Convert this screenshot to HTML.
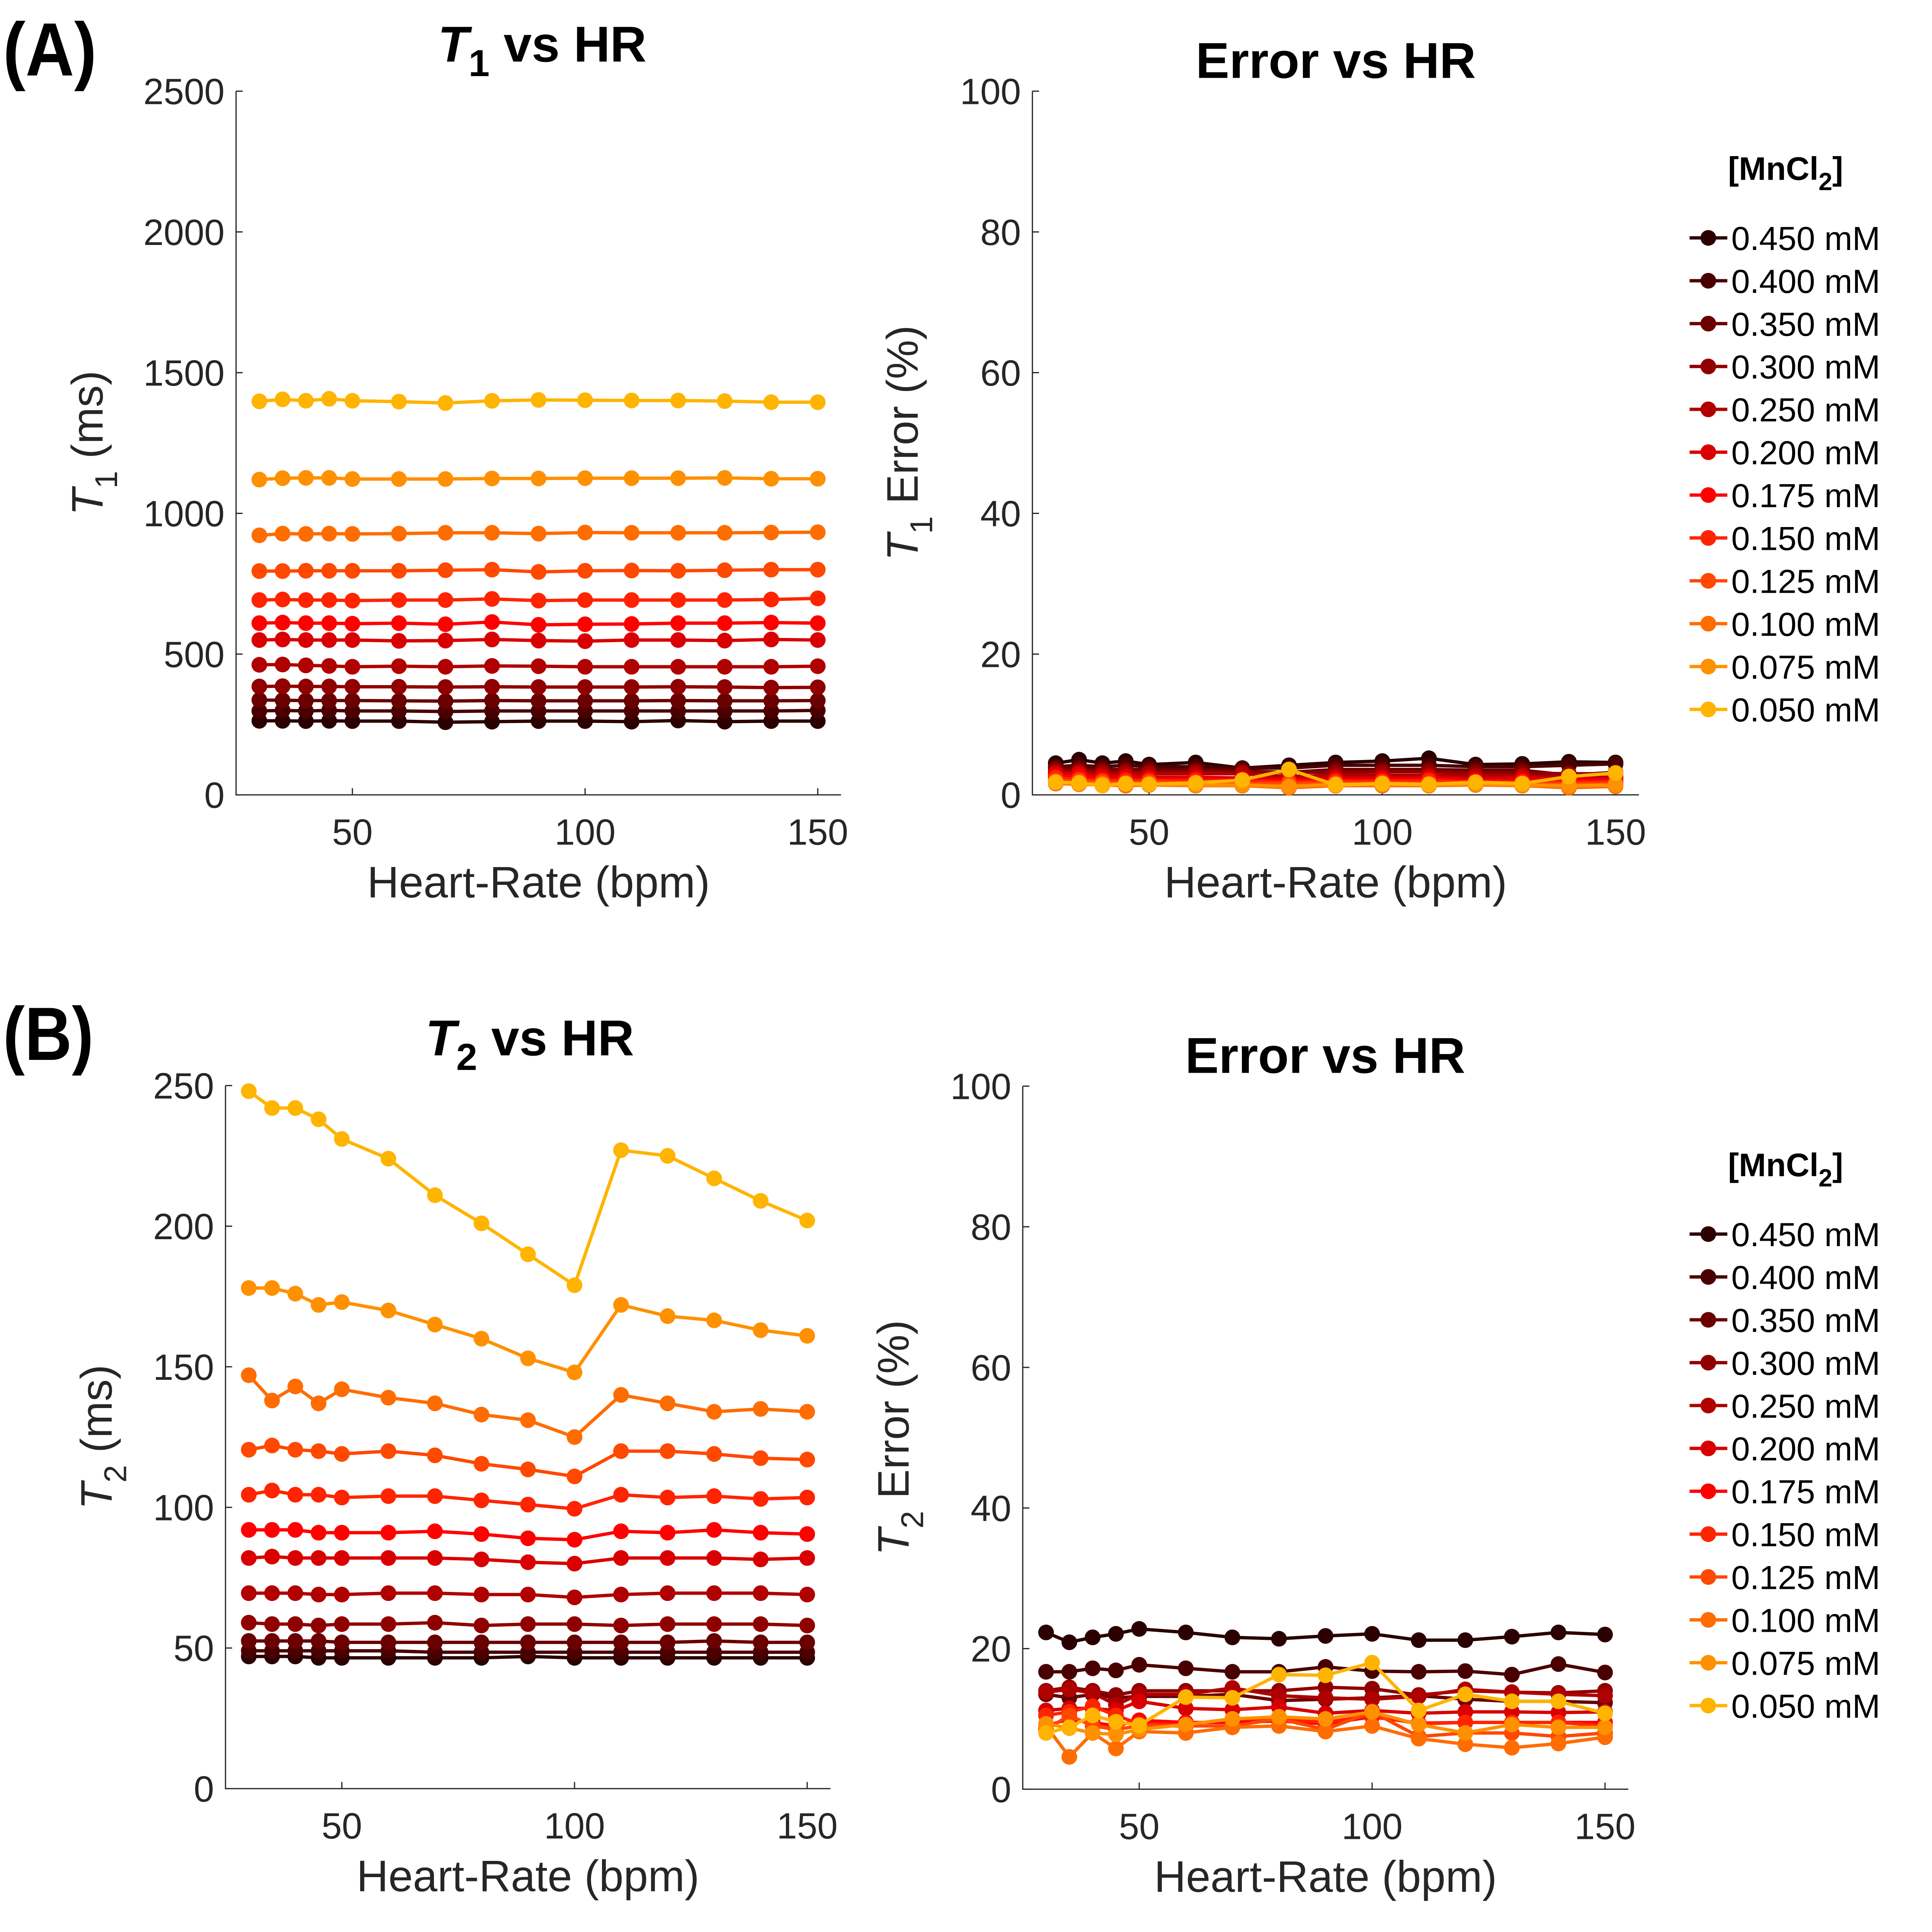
<!DOCTYPE html>
<html><head><meta charset="utf-8"><style>
html,body{margin:0;padding:0;background:#fff;width:100%;height:100%;overflow:hidden;}
svg{display:block;width:100vw;height:100vh;font-family:"Liberation Sans",Arial,sans-serif;}
</style></head><body>
<svg id="fig" viewBox="0 0 6400 6400" preserveAspectRatio="none" xmlns="http://www.w3.org/2000/svg">
<rect width="6400" height="6400" fill="#fff"/>
<text x="10" y="250" font-size="250" font-weight="bold" fill="#000" textLength="310" lengthAdjust="spacingAndGlyphs">(A)</text>
<text x="10" y="3511" font-size="250" font-weight="bold" fill="#000" textLength="300" lengthAdjust="spacingAndGlyphs">(B)</text>
<g id="plots"></g>
</svg>
<script>
const hr = [30,35,40,45,50,60,70,80,90,100,110,120,130,140,150];
const conc = ["0.450 mM","0.400 mM","0.350 mM","0.300 mM","0.250 mM","0.200 mM","0.175 mM","0.150 mM","0.125 mM","0.100 mM","0.075 mM","0.050 mM"];
const colors = ["#2a0000","#4a0000","#6a0000","#900000","#b00000","#d80000","#ff0000","#ff2400","#ff4800","#ff6c00","#ff9000","#ffb400"];
const xTicks = [50,100,150];
const t1Ticks = [0,500,1000,1500,2000,2500];
const errTicks = [0,20,40,60,80,100];
const t2Ticks = [0,50,100,150,200,250];

const t1Data = [
[263,263,262,263,262,262,258,260,262,262,260,264,260,262,262],
[298,300,298,300,298,298,296,298,298,298,298,298,298,298,300],
[337,336,335,335,335,334,333,335,334,334,334,335,334,334,335],
[385,386,385,385,384,384,383,384,383,383,383,384,383,381,382],
[462,463,460,458,455,457,455,458,457,455,455,455,455,455,457],
[550,552,550,550,550,547,548,552,548,546,550,550,548,552,550],
[610,612,610,610,608,610,606,614,604,606,607,610,610,612,610],
[692,694,692,692,690,692,692,696,690,692,692,692,692,694,698],
[795,795,796,796,796,796,798,800,792,796,797,796,798,800,800],
[922,928,927,928,927,928,931,931,928,932,931,931,931,932,933],
[1120,1125,1126,1126,1122,1122,1122,1124,1124,1125,1125,1125,1126,1123,1123],
[1398,1405,1400,1407,1400,1397,1392,1400,1403,1402,1401,1401,1399,1395,1395]
];
const t1Err = [
[4.5,5,4.5,4.8,4.3,4.6,3.8,4.2,4.6,4.8,5.2,4.3,4.4,4.7,4.6],
[4,4.2,4,4.2,4,4,3.8,3.8,4.2,4.2,4.2,4,4,4.2,4.4],
[3.8,3.8,3.6,3.6,3.6,3.6,3.4,3.2,3.6,3.6,3.6,3.5,3.5,2.8,3.2],
[3.5,3.5,3.3,3.3,3.2,3.3,3.2,3.2,3.2,3.3,3.3,3.1,3.1,3.0,3.0],
[3.2,3.2,3,3,3,3,3,2.6,2.8,2.8,2.8,2.7,2.7,2.5,2.5],
[3,3,2.6,2.6,2.5,2.5,2.4,2.3,2.4,2.4,2.5,2.3,2.4,2.2,2.3],
[2.6,2.6,2.2,2.2,2.2,2.2,2.1,2,2,2.1,2.2,2,2,2,2],
[2.4,2.2,2,2,2,2,1.9,1.8,1.9,1.9,2,1.8,1.8,1.8,1.8],
[2,2,1.8,1.7,1.8,1.7,1.6,1.6,1.6,1.7,1.6,1.6,1.6,1.5,1.6],
[1.6,1.5,1.4,1.3,1.4,1.3,1.3,1.0,1.3,1.3,1.3,1.4,1.3,1.0,1.2],
[1.8,1.6,1.5,1.5,1.5,1.4,1.4,1.2,1.5,1.5,1.4,1.5,1.4,1.3,1.4],
[1.8,1.7,1.3,1.6,1.5,1.7,2.1,3.6,1.4,1.6,1.5,1.8,1.6,2.6,3.1]
];
const t2Data = [
[47,47,47,46.5,46.5,46.5,46.5,46.5,47,46.5,46.5,46.5,46.5,46.5,46.5],
[49,49,49,49,49,49,48.5,48.5,48.5,48.5,48.5,48.5,48.5,48.5,48.5],
[52.5,52.5,52.5,52.5,52,52,52,52,52,52,52,52,52.5,52,52],
[59,58.5,58.5,58,58.5,58.5,59,58,58.5,58.5,58,58.5,58.5,58.5,58],
[69.5,69.5,69.5,69,69,69.5,69.5,69,69,68,69,69.5,69.5,69.5,69],
[82,82.5,82,82,82,82,82,81.5,80.5,80,82,82,82,81.5,82],
[92,92,92,91,91,91,91.5,90.5,89,88.5,91.5,91,92,91,90.5],
[104.5,106,104.5,104.5,103.5,104,104,102.5,101,99.5,104.5,103.5,104,103,103.5],
[120.5,122,120.5,120,119,120,118.5,115.5,113.5,111,120,120,119,117.5,117],
[147,138,143,137,142,139,137,133,131,125,140,137,134,135,134],
[178,178,176,172,173,170,165,160,153,148,172,168,166.5,163,161],
[248,242,242,238,231,224,211,201,190,179,227,225,217,209,202]
];
const t2Err = [
[22.3,20.9,21.6,22.1,22.8,22.3,21.6,21.4,21.8,22.1,21.2,21.2,21.7,22.3,22.0],
[16.7,16.7,17.2,16.9,17.7,17.2,16.7,16.7,17.4,16.8,16.7,16.8,16.3,17.8,16.6],
[13.5,13.0,13.5,13.0,13.2,13.2,13.5,12.6,12.8,13.0,13.3,12.8,12.5,12.5,12.3],
[14,14.5,14,13.4,14,14,14,14,14.5,14.3,13.4,14,13.8,13.7,14],
[13.8,14.2,13.7,12,13.5,13.5,14.4,13.3,13,12.8,13.2,14.2,13.8,13.5,13.3],
[11.2,11.5,11.5,11.2,12.5,11.5,11.3,11.7,10.8,11.2,10.8,11,11,10.9,11],
[9,10,9.5,9,9.8,9.5,9.5,9.7,9.3,10.3,9.4,9.5,9.5,9.5,9.5],
[10.5,11,11.8,10.5,9.3,9.2,10,10,9.5,10.5,9.3,9.5,9.5,9.5,9.0],
[8.5,10.5,9,8.5,9,9,9,10,8.5,11,7.5,8,8,7.5,8],
[9,4.6,8,5.8,8.2,8,8.8,9,8.2,9,7.2,6.4,5.9,6.5,7.4],
[9.3,8.7,8.0,7.8,8.5,9.2,10,10.3,10,11,9.2,8,9.2,8.8,8.8],
[8,8.8,10.5,9.6,9.1,13.1,13,16.3,16.2,18,11.2,13.5,12.5,12.5,10.8]
];

const NS = "http://www.w3.org/2000/svg";
const root = document.getElementById("plots");
function mk(tag, attrs, parent){
  const e = document.createElementNS(NS, tag);
  for (const k in attrs) e.setAttribute(k, attrs[k]);
  (parent||root).appendChild(e);
  return e;
}

function panel(cfg){
  const g = mk("g", {});
  
  
  const L=cfg.l, T=cfg.t, R=cfg.r, B=cfg.b;
  const xs = v => L + (v-25)/(155-25)*(R-L);
  const ys = v => B - (v-cfg.ymin)/(cfg.ymax-cfg.ymin)*(B-T);
  const ax = mk("path", {d:`M${L} ${T} L${L} ${B} L${R} ${B}`, stroke:"#262626", "stroke-width":4, fill:"none"}, g);
  
  
  cfg.yTicks.forEach(v=>{
    const y = ys(v);
    mk("line",{x1:L,x2:L+22,y1:y,y2:y,stroke:"#262626","stroke-width":4},g);
    const t = mk("text",{x:L-38,y:y+43,"text-anchor":"end","font-size":121,fill:"#262626"},g);
    
    
    t.textContent = v;
  });
  xTicks.forEach(v=>{
    const x = xs(v);
    mk("line",{x1:x,x2:x,y1:B,y2:B-22,stroke:"#262626","stroke-width":4},g);
    const t = mk("text",{x:x,y:B+165,"text-anchor":"middle","font-size":121,fill:"#262626"},g);
    
    
    t.textContent = v;
  });
  const xl = mk("text",{x:(L+R)/2,y:B+340,"text-anchor":"middle","font-size":146,fill:"#262626"},g);
  
  
  xl.textContent = "Heart-Rate (bpm)";
  const cy=(T+B)/2;
  const yl = mk("text",{x:0,y:0,"text-anchor":"middle","font-size":146,fill:"#262626",transform:`translate(${cfg.ylx},${cy}) rotate(-90)`},g);
  
  
  yl.innerHTML = `<tspan font-style="italic">T</tspan><tspan font-size="105" dy="48">${cfg.sub}</tspan><tspan dy="-48"> ${cfg.ylabel}</tspan>`;
  const ti = mk("text",{x:cfg.tx,y:cfg.ty,"text-anchor":"middle","font-size":167,"font-weight":"bold",fill:"#000"},g);
  
  
  ti.innerHTML = cfg.title;
  cfg.data.forEach((ser,i)=>{
    const sg = mk("g",{},g);
    
    
    const pts = ser.map((v,j)=>xs(hr[j])+","+ys(v)).join(" ");
    const pl = mk("polyline",{points:pts,fill:"none",stroke:colors[i],"stroke-width":11,"stroke-linejoin":"round"},sg);
    
    
    ser.forEach((v,j)=>{
      const c = mk("circle",{cx:xs(hr[j]),cy:ys(v),r:26,fill:colors[i]},sg);
      
      
    });
  });
  if (cfg.legendY){
    const lg = mk("g",{},g);
    
    
    const lt = mk("text",{x:5915,y:cfg.legendY-192,"text-anchor":"middle","font-size":108,"font-weight":"bold",fill:"#000"},lg);
    
    
    lt.innerHTML = `[MnCl<tspan font-size="82" dy="34">2</tspan><tspan dy="-34">]</tspan>`;
    conc.forEach((c,i)=>{
      const y = cfg.legendY + i*142;
      const e = mk("g",{},lg);
      
      
      mk("line",{x1:5597,x2:5722,y1:y,y2:y,stroke:colors[i],"stroke-width":11},e);
      mk("circle",{cx:5659,cy:y,r:26,fill:colors[i]},e);
      const t = mk("text",{x:5735,y:y+40,"font-size":111,fill:"#000"},e);
      t.textContent = c;
    });
  }
}

panel({name:"t1-vs-hr-chart",l:782,t:302,r:2786,b:2633,ymin:0,ymax:2500,yTicks:t1Ticks,data:t1Data,
  ylx:340,sub:"1",ylabel:"(ms)",tx:1796,ty:204,
  title:`<tspan font-style="italic">T</tspan><tspan font-size="125" dy="48">1</tspan><tspan dy="-48"> vs HR</tspan>`});
panel({name:"t1-error-vs-hr-chart",l:3420,t:302,r:5429,b:2633,ymin:0,ymax:100,yTicks:errTicks,data:t1Err,
  ylx:3040,sub:"1",ylabel:"Error (%)",tx:4425,ty:258,title:"Error vs HR",legendY:788});
panel({name:"t2-vs-hr-chart",l:747,t:3596,r:2751,b:5925,ymin:0,ymax:250,yTicks:t2Ticks,data:t2Data,
  ylx:370,sub:"2",ylabel:"(ms)",tx:1755,ty:3496,
  title:`<tspan font-style="italic">T</tspan><tspan font-size="125" dy="48">2</tspan><tspan dy="-48"> vs HR</tspan>`});
panel({name:"t2-error-vs-hr-chart",l:3388,t:3598,r:5394,b:5927,ymin:0,ymax:100,yTicks:errTicks,data:t2Err,
  ylx:3010,sub:"2",ylabel:"Error (%)",tx:4390,ty:3554,title:"Error vs HR",legendY:4088});
</script>
</body></html>
